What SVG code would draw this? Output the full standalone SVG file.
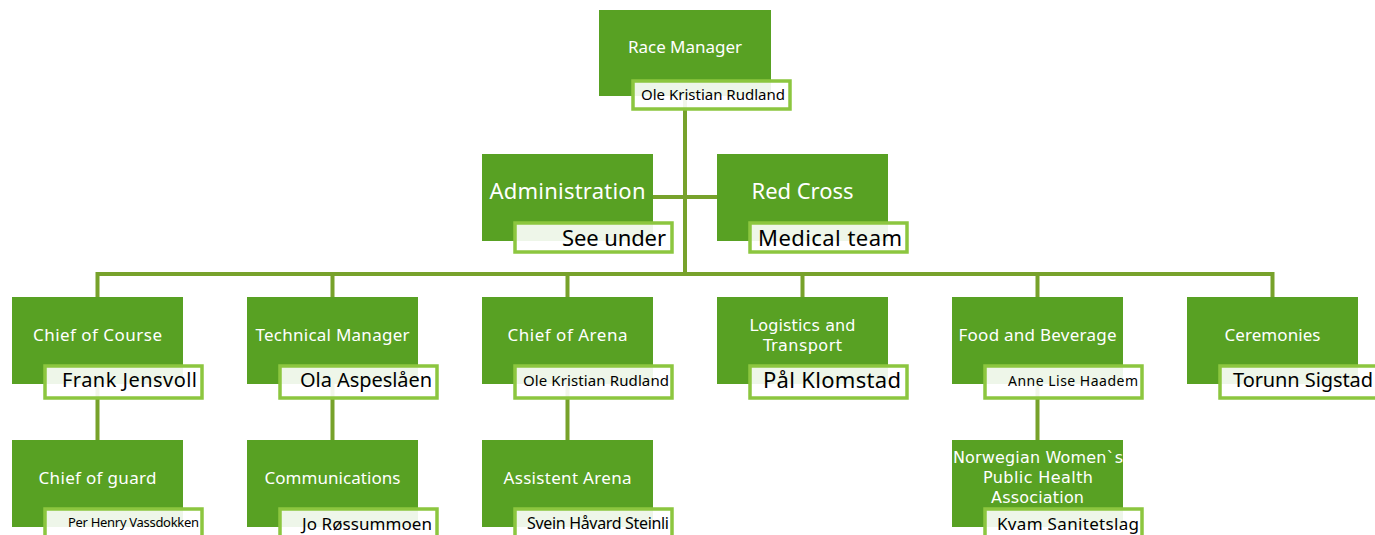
<svg xmlns="http://www.w3.org/2000/svg" width="1375" height="535" viewBox="0 0 1375 535">
<style>
.box{fill:#58A123}
.nb{fill:#ffffff;fill-opacity:0.9;stroke:#8CC63F;stroke-width:3.5}
.t{font-family:"Noto Sans","DejaVu Sans",sans-serif;fill:#ffffff;text-anchor:middle}
.t2{font-family:"DejaVu Sans","Noto Sans",sans-serif;fill:#ffffff;text-anchor:middle}
.n{font-family:"Noto Sans","DejaVu Sans",sans-serif;fill:#000000;text-anchor:end}
.c{fill:none;stroke:#77A22B;stroke-width:4}
</style>
<rect width="1375" height="535" fill="#ffffff"/>
<g id="connectors">
<path class="c" d="M685 96V274"/>
<path class="c" d="M653 197H717"/>
<path class="c" d="M97.5 297V274H1272.5V297"/>
<path class="c" d="M332.5 274V297M567.5 274V297M802.5 274V297M1037.5 274V297"/>
<path class="c" d="M97.5 384V440M332.5 384V440M567.5 384V440M1037.5 384V440"/>
</g>
<g id="race-manager">
<rect class="box" x="599" y="10" width="172" height="86"/>
<text class="t" x="685" y="53" font-size="17" textLength="114">Race Manager</text>
<rect class="nb" x="633" y="81" width="157" height="28"/>
<text class="n" x="785" y="100" font-size="15" textLength="144">Ole Kristian Rudland</text>
</g>
<g id="administration">
<rect class="box" x="482" y="154" width="171" height="87"/>
<text class="t" x="567.5" y="199" font-size="22" textLength="156">Administration</text>
<rect class="nb" x="515" y="223" width="157" height="29"/>
<text class="n" x="666" y="246" font-size="22" textLength="104">See under</text>
</g>
<g id="red-cross">
<rect class="box" x="717" y="154" width="171" height="87"/>
<text class="t" x="802.5" y="199" font-size="22" textLength="102">Red Cross</text>
<rect class="nb" x="750" y="223" width="157" height="29"/>
<text class="n" x="902" y="246" font-size="22" textLength="144">Medical team</text>
</g>
<g id="chief-of-course">
<rect class="box" x="12" y="297" width="171" height="87"/>
<text class="t" x="97.5" y="341" font-size="17" textLength="129">Chief of Course</text>
<rect class="nb" x="45" y="366" width="157" height="32"/>
<text class="n" x="197" y="387" font-size="20" textLength="135">Frank Jensvoll</text>
</g>
<g id="technical-manager">
<rect class="box" x="247" y="297" width="171" height="87"/>
<text class="t" x="332.5" y="341" font-size="17" textLength="154">Technical Manager</text>
<rect class="nb" x="280" y="366" width="157" height="32"/>
<text class="n" x="432" y="387" font-size="20" textLength="132">Ola Aspeslåen</text>
</g>
<g id="chief-of-arena">
<rect class="box" x="482" y="297" width="171" height="87"/>
<text class="t" x="567.5" y="341" font-size="17" textLength="120">Chief of Arena</text>
<rect class="nb" x="515" y="366" width="157" height="32"/>
<text class="n" x="669" y="386" font-size="15" textLength="146">Ole Kristian Rudland</text>
</g>
<g id="logistics">
<rect class="box" x="717" y="297" width="171" height="87"/>
<text class="t2" x="802.5" y="331" font-size="16" textLength="106">Logistics and</text>
<text class="t2" x="802.5" y="351" font-size="16" textLength="79">Transport</text>
<rect class="nb" x="750" y="366" width="157" height="32"/>
<text class="n" x="901" y="388" font-size="22" textLength="138">Pål Klomstad</text>
</g>
<g id="food-and-beverage">
<rect class="box" x="952" y="297" width="171" height="87"/>
<text class="t" x="1037.5" y="341" font-size="17" textLength="158">Food and Beverage</text>
<rect class="nb" x="985" y="366" width="157" height="32"/>
<text class="n" x="1138" y="386" font-size="14" textLength="130">Anne Lise Haadem</text>
</g>
<g id="ceremonies">
<rect class="box" x="1187" y="297" width="171" height="87"/>
<text class="t" x="1272.5" y="341" font-size="17" textLength="96">Ceremonies</text>
<rect class="nb" x="1220" y="366" width="157" height="32"/>
<text class="n" x="1373" y="387" font-size="20" textLength="140">Torunn Sigstad</text>
</g>
<g id="chief-of-guard">
<rect class="box" x="12" y="440" width="171" height="87"/>
<text class="t" x="97.5" y="484" font-size="17" textLength="118">Chief of guard</text>
<rect class="nb" x="45" y="509" width="157" height="32"/>
<text class="n" x="199" y="527" font-size="13" textLength="131">Per Henry Vassdokken</text>
</g>
<g id="communications">
<rect class="box" x="247" y="440" width="171" height="87"/>
<text class="t" x="332.5" y="484" font-size="17" textLength="136">Communications</text>
<rect class="nb" x="280" y="509" width="157" height="32"/>
<text class="n" x="432" y="530" font-size="17" textLength="130">Jo Røssummoen</text>
</g>
<g id="assistent-arena">
<rect class="box" x="482" y="440" width="171" height="87"/>
<text class="t" x="567.5" y="484" font-size="17" textLength="128">Assistent Arena</text>
<rect class="nb" x="515" y="509" width="157" height="32"/>
<text class="n" x="669" y="529" font-size="16" textLength="142">Svein Håvard Steinli</text>
</g>
<g id="norwegian-womens">
<rect class="box" x="952" y="440" width="171" height="87"/>
<text class="t2" x="1038" y="463" font-size="16" textLength="170">Norwegian Women`s</text>
<text class="t2" x="1038" y="483" font-size="16" textLength="110">Public Health</text>
<text class="t2" x="1037.5" y="503" font-size="16" textLength="93">Association</text>
<rect class="nb" x="985" y="509" width="157" height="32"/>
<text class="n" x="1139" y="530" font-size="17" textLength="142">Kvam Sanitetslag</text>
</g>
</svg>
